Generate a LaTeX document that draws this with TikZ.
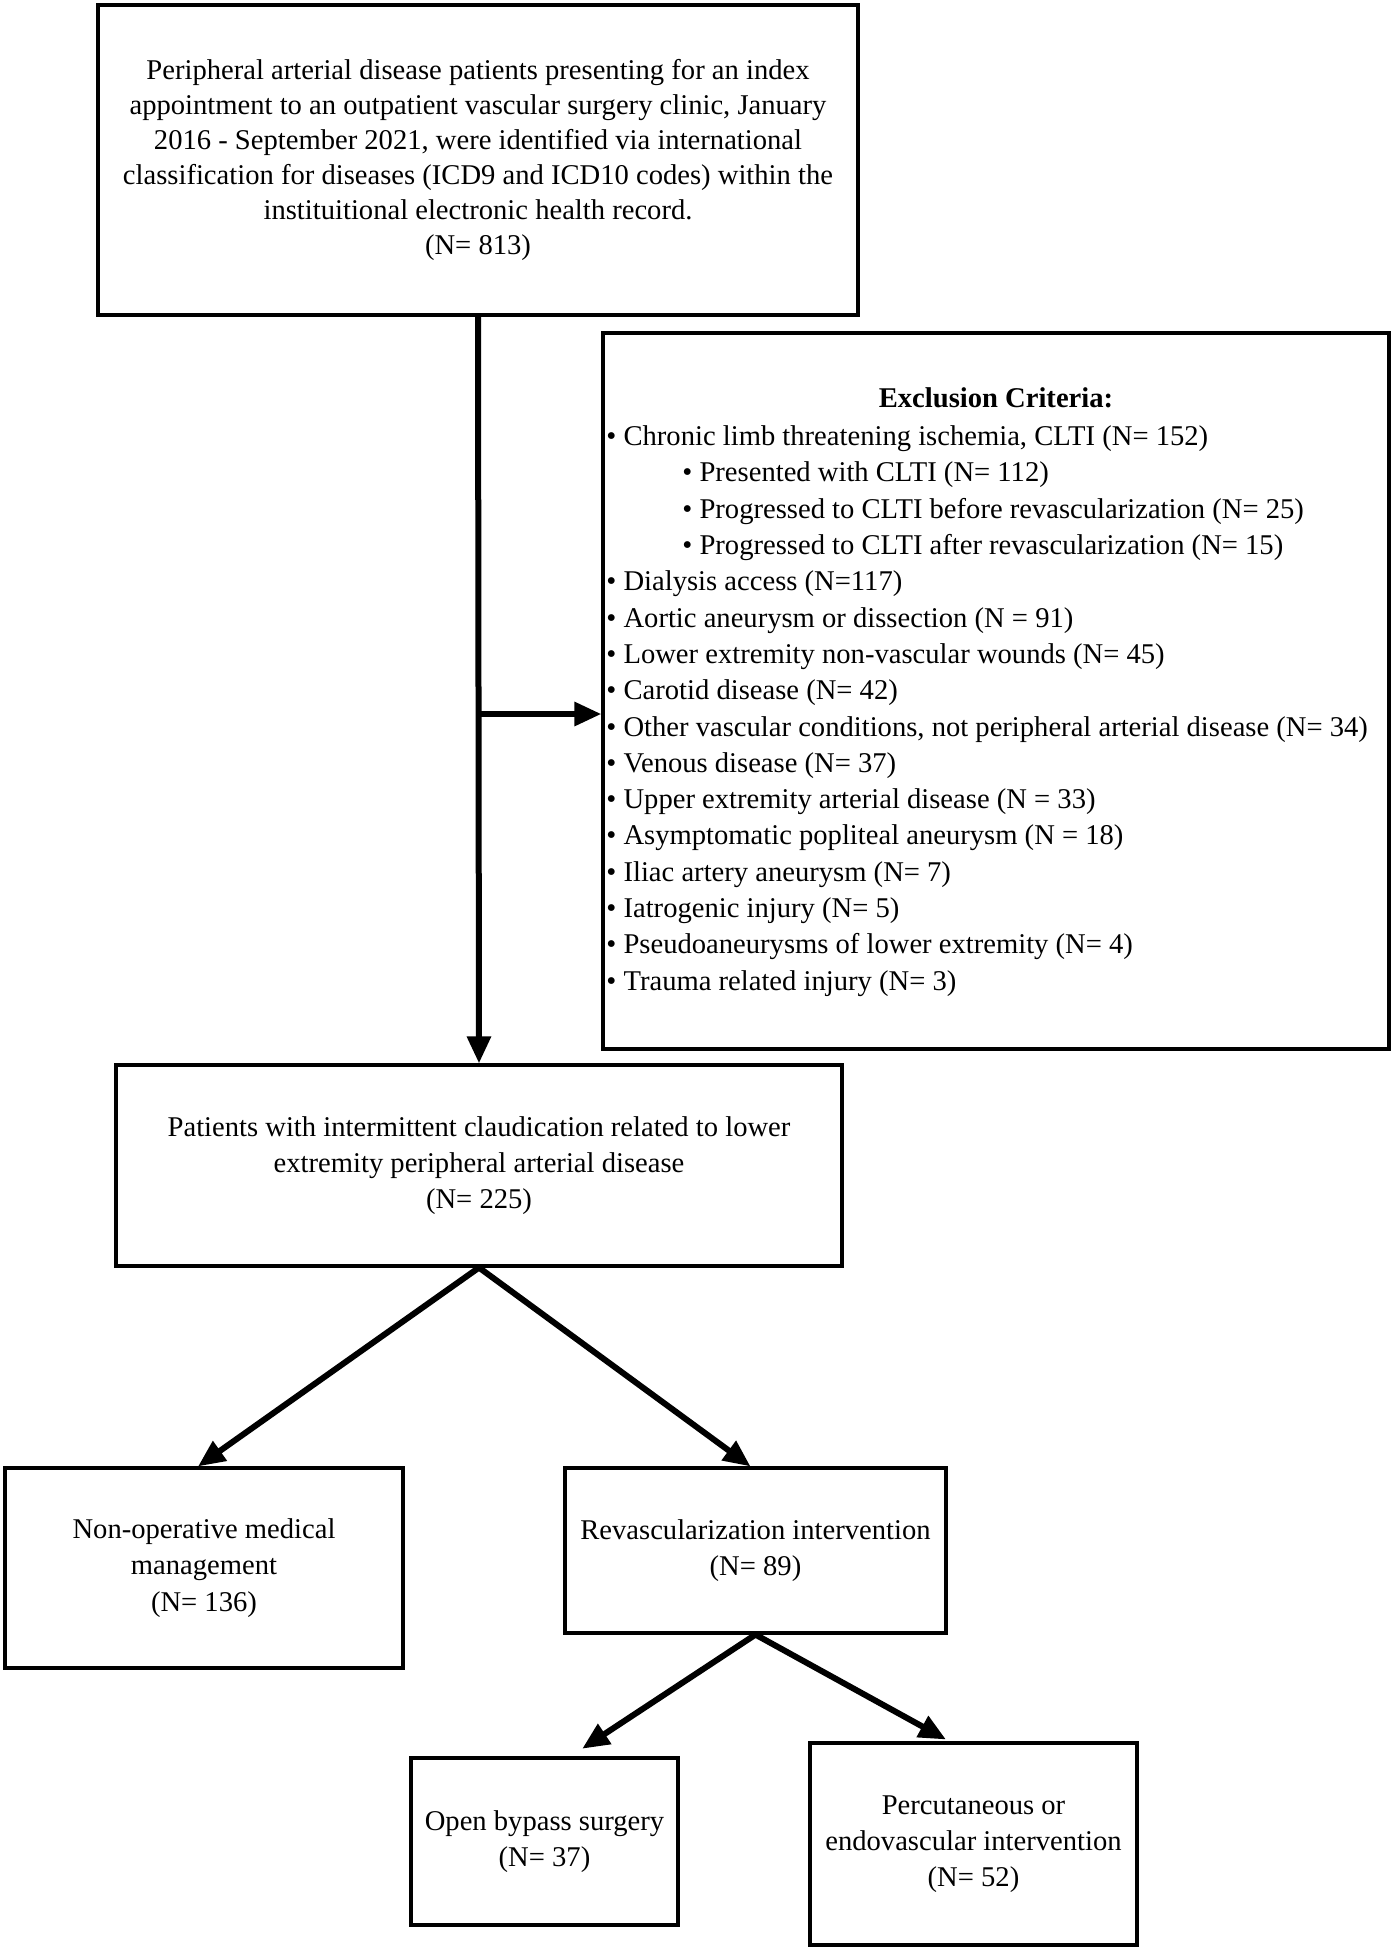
\documentclass[tikz,border=0pt]{standalone}
\usepackage{fontspec}
\setmainfont{Liberation Serif}
\usetikzlibrary{arrows.meta}
\begin{document}
\begin{tikzpicture}[x=0.5pt,y=-0.5pt,
  txt/.style={font=\fontsize{14.3}{18.15}\selectfont},
  box/.style={draw, line width=1.6pt, rectangle, inner sep=0pt, align=center, txt},
  arr/.style={line width=3pt, -{Triangle[length=13.5pt,width=11.5pt]}}]
\useasboundingbox (0,0) rectangle (1392,1950);
\node[box, minimum width=380pt, minimum height=155pt, font=\fontsize{14.3}{17.5}\selectfont] (top) at (478,160)
 {Peripheral arterial disease patients presenting for an index\\
  appointment to an outpatient vascular surgery clinic, January\\
  2016 - September 2021, were identified via international\\
  classification for diseases (ICD9 and ICD10 codes) within the\\
  instituitional electronic health record.\\
  (N= 813)};
\node[box, minimum width=393pt, minimum height=358pt] (excl) at (996,691) {};
\node[txt, font=\fontsize{14.3}{18.15}\selectfont\bfseries, inner sep=0pt] (exclhead) at (996,398) {Exclusion Criteria:};
\node[txt, align=left, anchor=west, inner sep=0pt] (excllist) at (606,711)
 {• Chronic limb threatening ischemia, CLTI (N= 152)\\
  \hspace*{38pt}• Presented with CLTI (N= 112)\\
  \hspace*{38pt}• Progressed to CLTI before revascularization (N= 25)\\
  \hspace*{38pt}• Progressed to CLTI after revascularization (N= 15)\\
  • Dialysis access (N=117)\\
  • Aortic aneurysm or dissection (N = 91)\\
  • Lower extremity non-vascular wounds (N= 45)\\
  • Carotid disease (N= 42)\\
  • Other vascular conditions, not peripheral arterial disease (N= 34)\\
  • Venous disease (N= 37)\\
  • Upper extremity arterial disease (N = 33)\\
  • Asymptomatic popliteal aneurysm (N = 18)\\
  • Iliac artery aneurysm (N= 7)\\
  • Iatrogenic injury (N= 5)\\
  • Pseudoaneurysms of lower extremity (N= 4)\\
  • Trauma related injury (N= 3)};
\node[box, minimum width=363pt, minimum height=100.5pt] (claud) at (479,1165.5)
 {Patients with intermittent claudication related to lower\\
  extremity peripheral arterial disease\\
  (N= 225)};
\node[box, minimum width=199pt, minimum height=100pt] (nonop) at (204,1568)
 {Non-operative medical\\ management\\ (N= 136)};
\node[box, minimum width=190.5pt, minimum height=82.5pt] (revasc) at (755.5,1550.5)
 {Revascularization intervention\\ (N= 89)};
\node[box, minimum width=133.5pt, minimum height=83.5pt] (open) at (544.5,1841.5)
 {Open bypass surgery\\ (N= 37)};
\node[box, minimum width=163.5pt, minimum height=101pt] (perc) at (973.5,1844)
 {Percutaneous or\\ endovascular intervention\\ (N= 52)};
\coordinate (junc) at (478,714);
\draw[arr] (top.south) -- (claud.north);
\draw[arr] (junc) -- (junc -| excl.west);
\draw[arr] (claud.south) -- ([xshift=-3pt]nonop.north);
\draw[arr] (claud.south) -- ([xshift=-2.5pt]revasc.north);
\draw[arr, shorten >=7pt] (revasc.south) -- ([xshift=13pt]open.north);
\draw[arr, shorten >=2pt] (revasc.south) -- ([xshift=-12pt]perc.north);
\end{tikzpicture}
\end{document}
